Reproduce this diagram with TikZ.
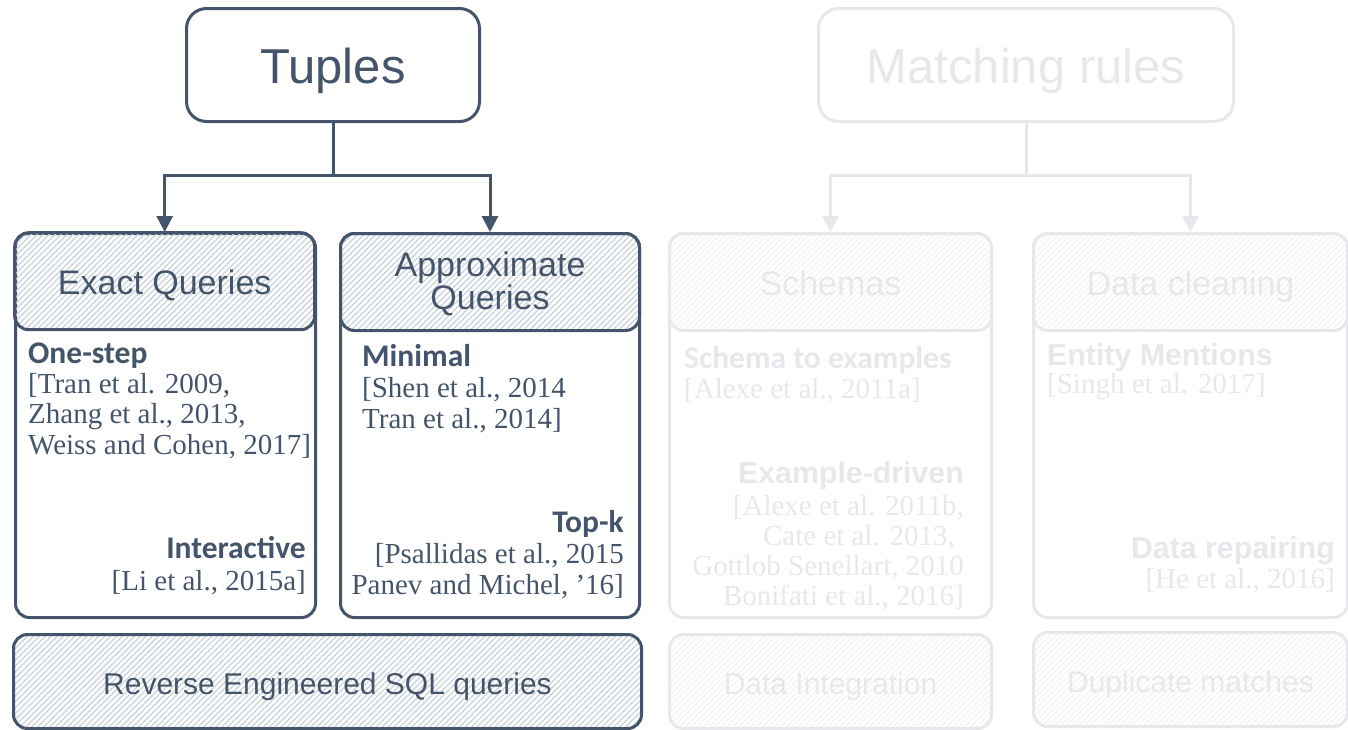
\documentclass[tikz,border=0pt]{standalone}
\usepackage{fontspec}
\setmainfont{Liberation Serif}
\newfontfamily\arialf{Liberation Sans}
\newfontfamily\calibf{Carlito}
\usetikzlibrary{patterns.meta,arrows.meta}
\definecolor{dk}{RGB}{68,84,106}
\definecolor{fd}{RGB}{230,232,236}
\definecolor{hatchdk}{RGB}{205,212,222}
\definecolor{hatchfd}{RGB}{243,244,246}
\begin{document}
\begin{tikzpicture}[x=1pt,y=-1pt,
  box/.style={draw=dk, line width=3pt, rounded corners=14pt, inner sep=0pt, anchor=north west},
  fbox/.style={box, draw=fd},
  hatchd/.style={pattern={Lines[angle=45,distance=4.2pt,line width=1.4pt]}, pattern color=hatchdk},
  hatchf/.style={pattern={Lines[angle=45,distance=4.2pt,line width=1.4pt]}, pattern color=hatchfd},
  top/.style={text=dk, anchor=base, yshift=-18pt, font=\arialf\fontsize{49}{52}\selectfont},
  hdr/.style={text=dk, anchor=base, yshift=-13.5pt, font=\arialf\fontsize{34}{38}\selectfont},
  hdr2/.style={text=dk, yshift=-2pt, font=\arialf\fontsize{34}{33}\selectfont, align=center},
  bot/.style={text=dk, yshift=-5pt, font=\arialf\fontsize{30}{34}\selectfont},
  cit/.style={text=dk, inner sep=0pt, font=\fontsize{29}{30}\selectfont},
  lblc/.style={text=dk, inner sep=0pt, font=\calibf\bfseries\fontsize{31.5}{32}\selectfont},
  lbla/.style={text=dk, inner sep=0pt, font=\arialf\bfseries\fontsize{30.3}{32}\selectfont},
  conn/.style={draw=dk, line width=3pt},
  arr/.style={conn, -{Triangle[length=16pt,width=16pt]}},
]
\useasboundingbox (0,0) rectangle (1348,729);

% ---------------- left (dark) part ----------------
\node[box, rounded corners=20pt, minimum width=293pt, minimum height=113pt] (tup) at (185,7) {};
\node[top] (tupT) at (tup.center) {Tuples};

\node[box, minimum width=300pt, minimum height=384pt] (exO) at (14,232) {};
\node[box, hatchd, minimum width=300pt, minimum height=97pt] (exH) at (14,232) {};
\node[hdr] (exT) at (exH.center) {Exact Queries};

\node[box, minimum width=299pt, minimum height=384pt] (apO) at (339,232) {};
\node[box, hatchd, minimum width=299pt, minimum height=97pt] (apH) at (339,232) {};
\node[hdr2] (apT) at (apH.center) {Approximate\\Queries};

\coordinate (j1) at (tup.south |- 0,175);
\draw[conn] (tup.south) -- (j1);
\draw[arr] (j1) -| (exH.north);
\draw[arr] (j1) -| (apH.north);

\node[lblc, anchor=base west] (os) at (28,363) {One-step};
\node[cit, anchor=base west] (c1) at (28,393) {[Tran et al. 2009,};
\node[cit, anchor=base west] (c2) at (28,423) {Zhang et al., 2013,};
\node[cit, anchor=base west] (c3) at (28,454) {Weiss and Cohen, 2017]};
\node[lblc, anchor=base east] (ia) at (306,558) {Interactive};
\node[cit, anchor=base east] (c4) at (306,590) {[Li et al., 2015a]};

\node[lblc, anchor=base west] (mn) at (362,366) {Minimal};
\node[cit, anchor=base west] (c5) at (362,397) {[Shen et al., 2014};
\node[cit, anchor=base west] (c6) at (362,428) {Tran et al., 2014]};
\node[lblc, anchor=base east] (tk) at (624,532) {Top-k};
\node[cit, anchor=base east] (c7) at (624,563) {[Psallidas et al., 2015};
\node[cit, anchor=base east] (c8) at (624,594) {Panev and Michel, ’16]};

\node[box, hatchd, minimum width=628pt, minimum height=94pt] (rev) at (12,633) {};
\node[bot] (revT) at (rev.center) {Reverse Engineered SQL queries};

% ---------------- right (faded) part ----------------
\node[fbox, rounded corners=20pt, minimum width=415pt, minimum height=113pt] (mr) at (817,7) {};
\node[top, text=fd] (mrT) at (mr.center) {Matching rules};

\node[fbox, minimum width=322pt, minimum height=384pt] (scO) at (668,232) {};
\node[fbox, hatchf, minimum width=322pt, minimum height=97pt] (scH) at (668,232) {};
\node[hdr, text=fd] (scT) at (scH.center) {Schemas};

\node[fbox, minimum width=314pt, minimum height=384pt] (dcO) at (1032,232) {};
\node[fbox, hatchf, minimum width=314pt, minimum height=97pt] (dcH) at (1032,232) {};
\node[hdr, text=fd] (dcT) at (dcH.center) {Data cleaning};

\coordinate (j2) at (mr.south |- 0,175);
\draw[conn, draw=fd] (mr.south) -- (j2);
\draw[arr, draw=fd] (j2) -| (scH.north);
\draw[arr, draw=fd] (j2) -| (dcH.north);

\node[lblc, text=fd, anchor=base west] (s1) at (684,368) {Schema to examples};
\node[cit, text=fd, anchor=base west] (s2) at (684,398) {[Alexe et al., 2011a]};
\node[lbla, text=fd, anchor=base east] (s3) at (964,483) {Example-driven};
\node[cit, text=fd, anchor=base east] (s4) at (964,515) {[Alexe et al. 2011b,};
\node[cit, text=fd, anchor=base east] (s5) at (955,545) {Cate et al. 2013,};
\node[cit, text=fd, anchor=base east] (s6) at (964,575) {Gottlob Senellart, 2010};
\node[cit, text=fd, anchor=base east] (s7) at (964,605) {Bonifati et al., 2016]};

\node[lbla, text=fd, anchor=base west] (d1) at (1047,365) {Entity Mentions};
\node[cit, text=fd, anchor=base west] (d2) at (1047,393) {[Singh et al. 2017]};
\node[lbla, text=fd, anchor=base east] (d3) at (1335,558) {Data repairing};
\node[cit, text=fd, anchor=base east] (d4) at (1335,588) {[He et al., 2016]};

\node[fbox, hatchf, minimum width=322pt, minimum height=94pt] (di) at (668,633) {};
\node[bot, text=fd] (diT) at (di.center) {Data Integration};
\node[fbox, hatchf, minimum width=314pt, minimum height=94pt] (dm) at (1032,631) {};
\node[bot, text=fd] (dmT) at (dm.center) {Duplicate matches};
\end{tikzpicture}
\end{document}
